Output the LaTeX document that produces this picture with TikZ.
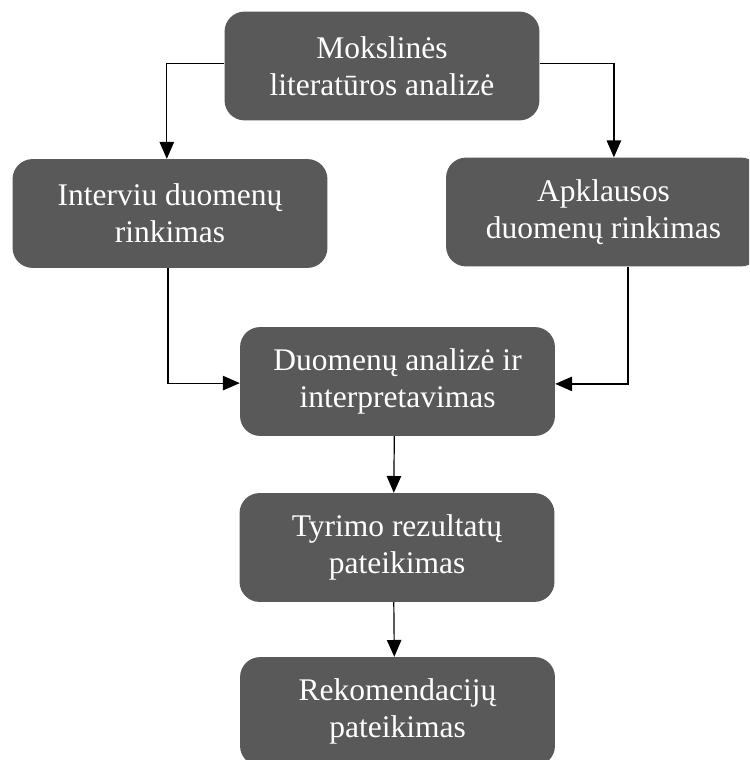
\documentclass[tikz,border=0pt]{standalone}
\usepackage{fontspec}
\setmainfont{Liberation Serif}
\usetikzlibrary{arrows.meta,positioning}
\definecolor{boxgray}{HTML}{595959}
\tikzset{
 stage/.style={draw=none,fill=boxgray,rounded corners=0.5cm,text=white,align=center,
  minimum width=7.87cm,minimum height=2.72cm,inner sep=0pt,
  font=\fontsize{22.4}{26.3}\selectfont},
 arr/.style={-{Triangle[length=0.42cm,width=0.36cm]},line width=0.85pt}
}
\begin{document}
\begin{tikzpicture}[x=0.025cm,y=-0.025cm]
 \path[use as bounding box,clip] (0,0) rectangle (749,760);
 % boxes
 \node[stage] (mok) at (382,66) {Mokslinės\\literatūros analizė};
 \node[stage] (int) at (170,213.5) {Interviu duomenų\\rinkimas};
 \node[stage] (apk) at (603.5,212) {Apklausos\\duomenų rinkimas};
 \node[stage] (dua) at (397.5,381.5) {Duomenų analizė ir\\interpretavimas};
 \node[stage] (tyr) at (397,547.5) {Tyrimo rezultatų\\pateikimas};
 \node[stage] (rek) at (397.5,711.5) {Rekomendacijų\\pateikimas};

 % connectors
 \draw[arr] ([yshift=0.07cm]mok.west) -| ([xshift=-0.08cm]int.north);
 \draw[arr] ([yshift=0.07cm]mok.east) -| ([xshift=0.26cm]apk.north);
 \draw[arr] ([xshift=-0.05cm]int.south) |- ([yshift=-0.04cm]dua.west);
 \draw[arr] ([xshift=0.61cm]apk.south) |- ([yshift=-0.06cm]dua.east);
 \foreach \a/\b in {dua/tyr,tyr/rek} {
  \draw[arr] ([xshift=-0.08cm]\a.south) -- ([xshift=-0.08cm]\b.north);
 };
\end{tikzpicture}
\end{document}
